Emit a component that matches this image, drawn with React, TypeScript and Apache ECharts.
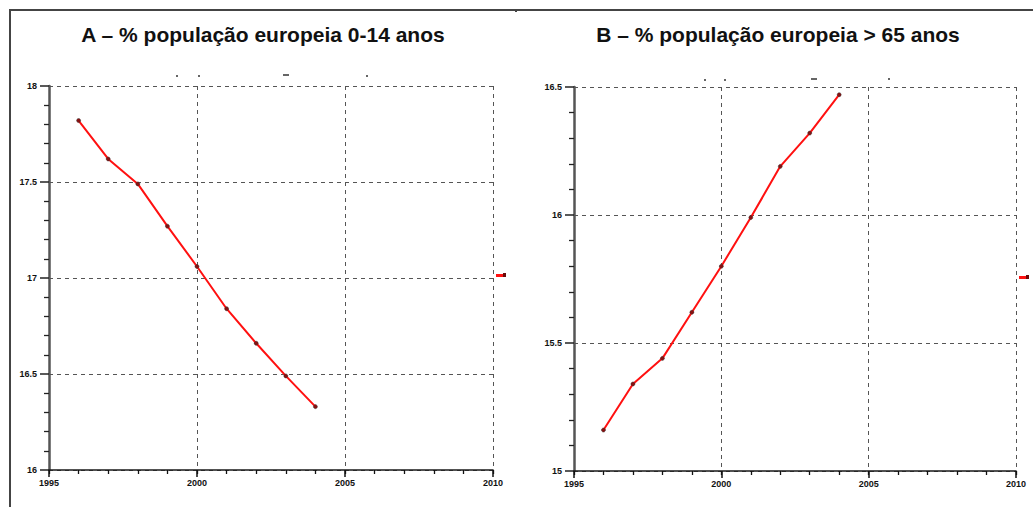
import React, { useEffect, useRef } from "react";
import * as echarts from "echarts";

const years = [1996, 1997, 1998, 1999, 2000, 2001, 2002, 2003, 2004];
const youngShare = [17.82, 17.62, 17.49, 17.27, 17.06, 16.84, 16.66, 16.49, 16.33];
const oldShare = [15.16, 15.34, 15.44, 15.62, 15.8, 15.99, 16.19, 16.32, 16.47];
const titleA = "A – % população europeia 0-14 anos";
const titleB = "B – % população europeia > 65 anos";
const yRangeA = [16, 18];
const yRangeB = [15, 16.5];
const xRange = [1995, 2010];

const FONT = "'Liberation Sans', Arial, sans-serif";
const dash = { color: "#555", type: [4, 4] as any, width: 1 };

function xAxisOpt(gridIndex: number) {
  return {
    type: "value",
    gridIndex,
    position: "bottom",
    min: xRange[0],
    max: xRange[1],
    interval: 5,
    axisLine: { show: true, onZero: false, lineStyle: { color: "#1a1a1a", width: 1.6 } },
    axisTick: { show: true, inside: false, length: 7, lineStyle: { color: "#111111", width: 1.5 } },
    splitLine: { show: true, lineStyle: dash },
    axisLabel: {
      margin: 8,
      fontSize: 9,
      fontWeight: "bold",
      color: "#111",
      fontFamily: FONT,
      formatter: (v: number) => String(v),
    },
  };
}

function xMinorAxisOpt(gridIndex: number) {
  return {
    type: "value",
    gridIndex,
    position: "bottom",
    min: xRange[0],
    max: xRange[1],
    interval: 1,
    axisLine: { show: false, onZero: false },
    axisTick: { show: true, inside: false, length: 4, lineStyle: { color: "#111111", width: 1.3 } },
    splitLine: { show: false },
    axisLabel: { show: false },
  };
}

function yAxisOpt(gridIndex: number, range: number[]) {
  return {
    type: "value",
    gridIndex,
    position: "left",
    min: range[0],
    max: range[1],
    interval: 0.5,
    axisLine: { show: true, onZero: false, lineStyle: { color: "#555555", width: 2.5 } },
    axisTick: { show: true, inside: false, length: 9, lineStyle: { color: "#222222", width: 1.5 } },
    minorTick: { show: true, splitNumber: 5, length: 5, lineStyle: { color: "#222222", width: 1.3 } },
    splitLine: { show: true, lineStyle: dash },
    axisLabel: {
      margin: 12,
      fontSize: 9,
      fontWeight: "bold",
      color: "#111",
      fontFamily: FONT,
      formatter: (v: number) => String(v),
    },
  };
}

function lineSeries(idx: number, vals: number[]) {
  return {
    type: "line",
    xAxisIndex: idx,
    yAxisIndex: idx,
    data: years.map((y, i) => [y, vals[i]]),
    lineStyle: { color: "#ff1010", width: 2 },
    symbol: "circle",
    symbolSize: 4,
    itemStyle: { color: "#8a1010", borderColor: "#333", borderWidth: 0.5 },
  };
}

const decoStyle = (x: number, y: number, w: number, h: number, bg: string): React.CSSProperties => ({
  position: "absolute",
  left: x,
  top: y,
  width: w,
  height: h,
  background: bg,
  pointerEvents: "none",
});

const decorations: [number, number, number, number, string][] = [
  [9, 9, 1024, 2, "#444"],
  [9, 9, 2, 498, "#444"],
  [515, 10, 2, 2, "#444"],
  [496, 274, 8, 3, "#ff1010"],
  [503, 273, 3, 4, "#6a0a0a"],
  [1019, 276, 8, 3, "#ff1010"],
  [1026, 275, 3, 4, "#6a0a0a"],
  [176, 75, 1.5, 1.5, "#666"],
  [198, 75, 1.5, 1.5, "#666"],
  [283, 74, 6, 1.5, "#666"],
  [366, 75, 1.5, 1.5, "#666"],
  [704, 79, 1.5, 1.5, "#666"],
  [724, 79, 1.5, 1.5, "#666"],
  [811, 78, 6, 1.5, "#666"],
  [888, 78, 2, 1.5, "#666"],
];

export default function App() {
  const ref = useRef<HTMLDivElement>(null);
  useEffect(() => {
    if (!ref.current) return;
    const chart = echarts.init(ref.current, undefined, { renderer: "svg" });
    chart.setOption({
      animation: false,
      backgroundColor: "#ffffff",
      title: [
        {
          text: titleA,
          left: 258,
          top: 19,
          textAlign: "center",
          textStyle: { fontSize: 21, fontWeight: "bold", color: "#111", fontFamily: FONT },
        },
        {
          text: titleB,
          left: 773,
          top: 19,
          textAlign: "center",
          textStyle: { fontSize: 21, fontWeight: "bold", color: "#111", fontFamily: FONT },
        },
      ],
      grid: [
        { left: 49, top: 86, width: 444, height: 384 },
        { left: 574, top: 87, width: 442, height: 384 },
      ],
      xAxis: [xAxisOpt(0), xAxisOpt(1), xMinorAxisOpt(0), xMinorAxisOpt(1)],
      yAxis: [yAxisOpt(0, yRangeA), yAxisOpt(1, yRangeB)],
      series: [lineSeries(0, youngShare), lineSeries(1, oldShare)],
    });
    return () => chart.dispose();
  }, []);
  return (
    <div style={{ position: "fixed", left: 0, top: 0, width: 1033, height: 507, background: "#fff" }}>
      <div ref={ref} style={{ position: "absolute", left: 0, top: 0, width: 1033, height: 507 }} />
      {decorations.map(([x, y, w, h, bg], i) => (
        <div key={i} style={decoStyle(x, y, w, h, bg)} />
      ))}
    </div>
  );
}
